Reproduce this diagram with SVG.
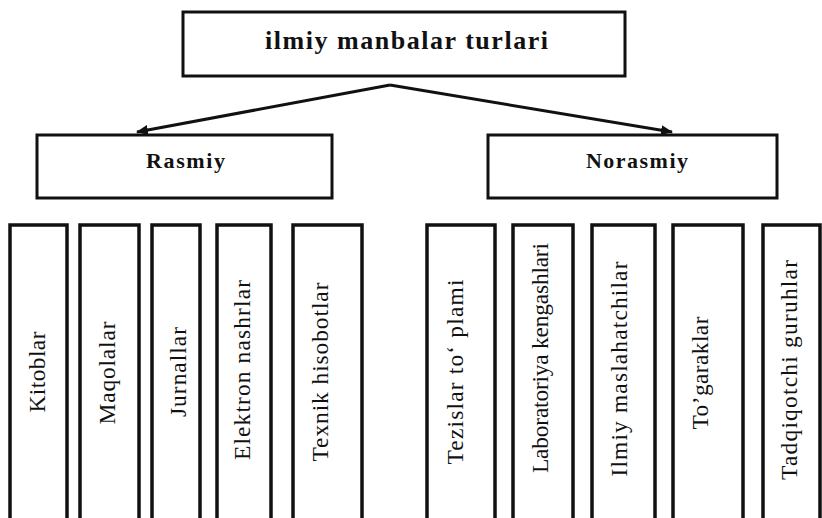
<svg xmlns="http://www.w3.org/2000/svg" width="822" height="518" viewBox="0 0 822 518">
<style>
.box{fill:#fff;stroke:#111;stroke-width:3}
.vbox{fill:#fff;stroke:#111;stroke-width:3.5}
.t{fill:#111}
.hd{font-weight:bold;font-size:26px}
.sub{font-weight:bold;font-size:22px}
.v{font-size:23.5px;text-anchor:middle}
.conn{stroke:#111;stroke-width:3;fill:none}
</style>
<defs>
<marker id="arr" viewBox="0 0 12 10" refX="11" refY="5" markerWidth="12" markerHeight="10" markerUnits="userSpaceOnUse" orient="auto">
<path d="M0,0 L12,5 L0,10 Z" fill="#111"/>
</marker>
</defs>
<rect width="822" height="518" fill="#fff"/>
<g id="connectors">
<path class="conn" d="M390,85 L137,132" marker-end="url(#arr)"/>
<path class="conn" d="M390,85 L672,132" marker-end="url(#arr)"/>
</g>
<g font-family="'Liberation Serif', 'DejaVu Serif', serif">
<g id="root">
<rect class="box" x="183" y="12" width="442" height="64"/>
<text class="t hd" x="265" y="49" textLength="283" lengthAdjust="spacing">ilmiy manbalar turlari</text>
</g>
<g id="rasmiy">
<rect class="box" x="37" y="135" width="295" height="63"/>
<text class="t sub" x="146" y="168" textLength="79" lengthAdjust="spacing">Rasmiy</text>
</g>
<g id="norasmiy">
<rect class="box" x="488" y="135" width="289" height="63"/>
<text class="t sub" x="586" y="168" textLength="102" lengthAdjust="spacing">Norasmiy</text>
</g>
<g id="kitoblar">
<rect class="vbox" x="10" y="225" width="57" height="310"/>
<text class="t v" transform="translate(45,372) rotate(-90)" textLength="81" lengthAdjust="spacing">Kitoblar</text>
</g>
<g id="maqolalar">
<rect class="vbox" x="80" y="225" width="59" height="310"/>
<text class="t v" transform="translate(115,373) rotate(-90)" textLength="103" lengthAdjust="spacing">Maqolalar</text>
</g>
<g id="jurnallar">
<rect class="vbox" x="152" y="225" width="48" height="310"/>
<text class="t v" transform="translate(186,372) rotate(-90)" textLength="90" lengthAdjust="spacing">Jurnallar</text>
</g>
<g id="elektron">
<rect class="vbox" x="217" y="225" width="54" height="310"/>
<text class="t v" transform="translate(250,370) rotate(-90)" textLength="180" lengthAdjust="spacing">Elektron  nashrlar</text>
</g>
<g id="texnik">
<rect class="vbox" x="293" y="225" width="69" height="310"/>
<text class="t v" transform="translate(328,372) rotate(-90)" textLength="179" lengthAdjust="spacing">Texnik  hisobotlar</text>
</g>
<g id="tezislar">
<rect class="vbox" x="427" y="225" width="68" height="310"/>
<text class="t v" transform="translate(463,372) rotate(-90)" textLength="185" lengthAdjust="spacing">Tezislar  to‘ plami</text>
</g>
<g id="laboratoriya">
<rect class="vbox" x="513" y="225" width="60" height="310"/>
<text class="t v" transform="translate(548,358) rotate(-90)" textLength="230" lengthAdjust="spacing">Laboratoriya kengashlari</text>
</g>
<g id="maslahatchilar">
<rect class="vbox" x="592" y="225" width="63" height="310"/>
<text class="t v" transform="translate(627,369) rotate(-90)" textLength="215" lengthAdjust="spacing">Ilmiy  maslahatchilar</text>
</g>
<g id="togaraklar">
<rect class="vbox" x="673" y="225" width="70" height="310"/>
<text class="t v" transform="translate(708,373) rotate(-90)" textLength="113" lengthAdjust="spacing">To’garaklar</text>
</g>
<g id="tadqiqotchi">
<rect class="vbox" x="763" y="225" width="57" height="310"/>
<text class="t v" transform="translate(797,370) rotate(-90)" textLength="220" lengthAdjust="spacing">Tadqiqotchi  guruhlar</text>
</g>
</g>
</svg>
